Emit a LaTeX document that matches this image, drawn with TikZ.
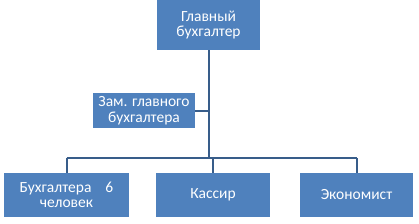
\documentclass[tikz,border=0pt]{standalone}
\usepackage{fontspec}
\setmainfont{Carlito}
\usetikzlibrary{positioning}
\definecolor{orgfill}{RGB}{79,129,189}
\definecolor{orgline}{RGB}{56,93,138}

\begin{document}
\begin{tikzpicture}[x=1pt,y=-1pt,
    post/.style={fill=orgfill,text=white,align=center,inner sep=0pt,
      font=\fontsize{15.5}{15.5}\selectfont},
    link/.style={orgline,line width=2pt}]
  \useasboundingbox (0,0) rectangle (419,223);
  % boxes
  \node[post,minimum width=103,minimum height=50] (chief) at (208.5,25) {Главный\\бухгалтер};
  \node[post,minimum width=102,minimum height=35] (deputy) at (144,110.5) {Зам. главного\\бухгалтера};
  \node[post,minimum width=125,minimum height=44] (acc) at (66.5,195) {Бухгалтера\hspace{14pt}6\\человек};
  \node[post,minimum width=114,minimum height=44] (cash) at (213,195) {Кассир};
  \node[post,minimum width=113,minimum height=44] (econ) at (356.5,195) {Экономист};
  \coordinate (bus) at (0,158);
  % connectors
  \draw[link] (chief.south) -- (chief.south |- bus);
  \draw[link] (deputy.east) -- (deputy.east -| chief.south);
  \draw[link] (acc.north |- bus) -- (econ.north |- bus);
  \foreach \n in {acc,cash,econ}
    \draw[link] (\n.north) -- (\n.north |- bus);
\end{tikzpicture}
\end{document}
